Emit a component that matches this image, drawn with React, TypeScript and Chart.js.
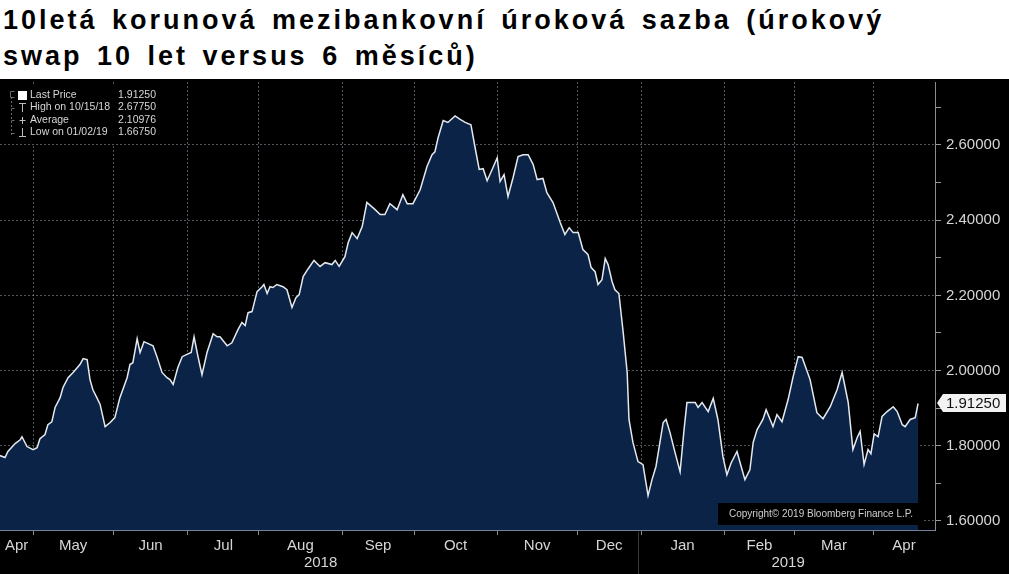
import React, { useEffect, useRef } from "react";
import { Chart, registerables } from "chart.js";
Chart.register(...registerables);

// ---------- data ----------
const titleLines = [
  "10letá korunová mezibankovní úroková sazba (úrokový",
  "swap 10 let versus 6 měsíců)",
];

// trading-day index since the first plotted day (Apr 2018)
const tradingDay = [
  0, 1.4, 2.2, 4.2, 5.6, 6.1, 7.5, 9.2, 10.3, 11.1,
  12.5, 13.3, 14.4, 15.3, 16.7, 17.5, 18.9, 20.3, 22.2, 23.1,
  24.2, 25.0, 25.8, 26.9, 27.8, 29.2, 30.6, 31.9, 33.3, 35.3,
  36.1, 36.9, 38.1, 38.9, 40.0, 42.5, 43.6, 45.0, 46.4, 47.2,
  48.1, 49.4, 50.6, 51.9, 53.1, 53.9, 55.0, 56.1, 57.5, 59.2,
  60.3, 61.1, 63.1, 64.4, 66.1, 67.2, 68.1, 68.9, 70.0, 71.4,
  72.8, 73.3, 74.2, 75.0, 75.8, 76.9, 78.6, 79.7, 81.1, 82.2,
  83.1, 84.2, 85.6, 87.2, 88.9, 90.3, 92.2, 93.1, 94.2, 95.8,
  96.7, 97.8, 99.2, 100.6, 101.9, 104.2, 105.6, 106.9, 108.3, 110.3,
  111.9, 113.1, 114.7, 116.7, 118.6, 120.0, 120.8, 121.7, 123.1, 124.4,
  126.4, 127.8, 129.2, 130.8, 131.9, 133.1, 134.2, 135.3, 136.7, 138.1,
  138.9, 140.0, 141.1, 142.5, 143.9, 145.3, 146.7, 148.1, 149.2, 150.8,
  151.9, 153.6, 155.6, 156.9, 158.1, 159.2, 160.6, 161.9, 163.3, 164.2,
  165.3, 166.1, 167.2, 168.1, 168.9, 170.0, 170.8, 171.9, 173.1, 174.2,
  174.7, 175.8, 177.2, 178.6, 180.0, 181.1, 182.2, 184.2, 185.0, 186.1,
  187.5, 188.9, 190.0, 190.8, 193.1, 193.9, 195.0, 196.7, 198.1, 199.4,
  200.8, 201.9, 203.1, 204.7, 206.1, 206.9, 208.3, 209.2, 210.3, 211.9,
  212.8, 214.7, 215.8, 217.2, 218.9, 220.3, 221.7, 222.8, 225.0, 226.9,
  228.6, 230.6, 232.5, 233.9, 235.6, 236.9, 238.1, 238.9, 240.0, 241.1,
  241.9, 242.8, 243.9, 245.0, 246.4, 248.1, 249.2, 250.6, 251.4, 252.8,
  254.2, 255.0,
];

const rate = [
  1.774, 1.769, 1.785, 1.806, 1.816, 1.824, 1.798, 1.790, 1.795, 1.819,
  1.830, 1.856, 1.864, 1.902, 1.928, 1.955, 1.981, 1.995, 2.016, 2.032,
  2.029, 1.976, 1.949, 1.928, 1.910, 1.851, 1.862, 1.875, 1.928, 1.981,
  2.016, 2.021, 2.085, 2.048, 2.077, 2.066, 2.037, 1.995, 1.981, 1.976,
  1.963, 2.008, 2.037, 2.043, 2.048, 2.090, 2.037, 1.989, 2.048, 2.098,
  2.090, 2.090, 2.066, 2.074, 2.109, 2.128, 2.120, 2.154, 2.157, 2.210,
  2.223, 2.229, 2.205, 2.223, 2.221, 2.229, 2.223, 2.215, 2.168, 2.194,
  2.202, 2.250, 2.271, 2.293, 2.277, 2.287, 2.282, 2.293, 2.277, 2.303,
  2.340, 2.367, 2.351, 2.383, 2.447, 2.428, 2.415, 2.415, 2.444, 2.428,
  2.468, 2.444, 2.444, 2.481, 2.543, 2.574, 2.582, 2.620, 2.665, 2.660,
  2.6775, 2.668, 2.660, 2.654, 2.596, 2.535, 2.537, 2.505, 2.535, 2.566,
  2.503, 2.521, 2.463, 2.513, 2.569, 2.574, 2.574, 2.548, 2.508, 2.511,
  2.473, 2.447, 2.394, 2.362, 2.380, 2.367, 2.367, 2.322, 2.309, 2.274,
  2.263, 2.229, 2.242, 2.298, 2.282, 2.237, 2.215, 2.205, 2.101, 1.995,
  1.870, 1.809, 1.758, 1.750, 1.6675, 1.710, 1.745, 1.862, 1.870, 1.835,
  1.782, 1.731, 1.843, 1.915, 1.915, 1.902, 1.915, 1.891, 1.926, 1.870,
  1.771, 1.723, 1.755, 1.785, 1.737, 1.710, 1.737, 1.809, 1.843, 1.870,
  1.896, 1.851, 1.883, 1.864, 1.923, 1.984, 2.037, 2.035, 1.976, 1.888,
  1.872, 1.904, 1.949, 1.995, 1.915, 1.790, 1.822, 1.838, 1.750, 1.790,
  1.779, 1.832, 1.824, 1.878, 1.891, 1.904, 1.891, 1.856, 1.851, 1.870,
  1.875, 1.9125,
];

// first trading day of each month (May 2018 .. Apr 2019)
const monthStartDay = [9.2, 31.4, 52.2, 71.9, 95.0, 115.0, 138.1, 160.3, 178.1, 201.1, 220.8, 242.5];
const monthLabels = ["Apr", "May", "Jun", "Jul", "Aug", "Sep", "Oct", "Nov", "Dec", "Jan", "Feb", "Mar", "Apr"];
const yearLabels = ["2018", "2019"];
const newYearMonthIndex = 8; // index in monthStartDay of Jan 2019
const axisStartDay = 0;
const axisEndDay = 259.7;

const yMin = 1.57606;
const yMax = 2.76755;
const yTicks = [1.6, 1.7, 1.8, 1.9, 2.0, 2.1, 2.2, 2.3, 2.4, 2.5, 2.6, 2.7];
const yLabelTicks = [1.6, 1.8, 2.0, 2.2, 2.4, 2.6];

const legendLabels = ["Last Price", "High on 10/15/18", "Average", "Low on 01/02/19"];
const legendValues = ["1.91250", "2.67750", "2.10976", "1.66750"];
const lastPrice = 1.9125;
const copyrightText = "Copyright\u00A9 2019 Bloomberg Finance L.P.";

// ---------- styles ----------
const FONT = "'Liberation Sans', Arial, sans-serif";
const TEXT = "#d6d6d6";
const GRID = "rgba(150,160,175,0.55)";
const FILL = "#0b2346";
const LINE = "#e4e9ef";

export default function App() {
  const ref = useRef<HTMLCanvasElement>(null);

  useEffect(() => {
    const canvas = ref.current;
    if (!canvas) return;

    const edges = [axisStartDay, ...monthStartDay, axisEndDay];
    const xTickDefs: any[] = [];
    monthStartDay.forEach((v) => xTickDefs.push({ value: v, kind: "b", name: "" }));
    monthLabels.forEach((lab, i) =>
      xTickDefs.push({ value: (edges[i] + edges[i + 1]) / 2, kind: "m", name: lab })
    );
    xTickDefs.sort((a, b) => a.value - b.value);

    const isLabelY = (v: number) => yLabelTicks.some((t) => Math.abs(t - v) < 1e-6);

    const overlay = {
      id: "bbgOverlay",
      afterDraw(chart: any) {
        const ctx = chart.ctx as CanvasRenderingContext2D;
        const xs = chart.scales.x;
        const ys = chart.scales.y;
        const area = chart.chartArea;
        const H = chart.height;
        ctx.save();

        // year separator + year labels
        const janDay = monthStartDay[newYearMonthIndex];
        const sepX = Math.round(xs.getPixelForValue(janDay)) - 2.5;
        ctx.strokeStyle = "#3a3a3a";
        ctx.lineWidth = 1;
        ctx.beginPath();
        ctx.moveTo(sepX, area.bottom + 2);
        ctx.lineTo(sepX, H);
        ctx.stroke();
        ctx.fillStyle = TEXT;
        ctx.font = `15px ${FONT}`;
        ctx.textAlign = "center";
        ctx.textBaseline = "middle";
        const y2018 = xs.getPixelForValue((axisStartDay + janDay) / 2);
        const y2019 = xs.getPixelForValue((janDay + axisEndDay) / 2);
        ctx.fillText(yearLabels[0], y2018, 484);
        ctx.fillText(yearLabels[1], y2019, 484);

        // last price tag
        const py = Math.round(ys.getPixelForValue(lastPrice));
        const left = area.right + 2;
        ctx.fillStyle = "#f2f2f2";
        ctx.beginPath();
        ctx.moveTo(left, py);
        ctx.lineTo(left + 6, py - 9);
        ctx.lineTo(1006, py - 9);
        ctx.lineTo(1006, py + 9);
        ctx.lineTo(left + 6, py + 9);
        ctx.closePath();
        ctx.fill();
        ctx.fillStyle = "#111";
        ctx.textAlign = "left";
        ctx.font = `15px ${FONT}`;
        ctx.fillText(lastPrice.toFixed(5), area.right + 11, py + 1);

        // legend box
        ctx.fillStyle = "#000";
        ctx.fillRect(4, 7, 162, 58);
        const rows = [16, 28.5, 41, 53.5];
        ctx.strokeStyle = "#6a6a6a";
        ctx.lineWidth = 1;
        ctx.setLineDash([2, 2]);
        ctx.beginPath();
        ctx.moveTo(11.5, 18);
        ctx.lineTo(11.5, 56);
        ctx.stroke();
        ctx.setLineDash([]);
        ctx.beginPath();
        ctx.moveTo(14.5, 12.5);
        ctx.lineTo(10.5, 12.5);
        ctx.lineTo(10.5, 18.5);
        ctx.lineTo(14.5, 18.5);
        for (let i = 1; i < 4; i++) {
          ctx.moveTo(11.5, Math.round(rows[i]) + 0.5);
          ctx.lineTo(14.5, Math.round(rows[i]) + 0.5);
        }
        ctx.stroke();
        // markers
        ctx.fillStyle = "#ffffff";
        ctx.fillRect(18, 12, 9, 9);
        ctx.strokeStyle = "#bdbdbd";
        ctx.beginPath();
        ctx.moveTo(19, 24.5); ctx.lineTo(26, 24.5);
        ctx.moveTo(22.5, 24.5); ctx.lineTo(22.5, 33);
        ctx.moveTo(19.5, 41.5); ctx.lineTo(25.5, 41.5);
        ctx.moveTo(22.5, 38); ctx.lineTo(22.5, 45);
        ctx.moveTo(22.5, 49); ctx.lineTo(22.5, 57.5);
        ctx.moveTo(19, 57.5); ctx.lineTo(26, 57.5);
        ctx.stroke();
        ctx.font = `10.5px ${FONT}`;
        ctx.fillStyle = TEXT;
        ctx.textBaseline = "middle";
        legendLabels.forEach((lab, i) => {
          ctx.textAlign = "left";
          ctx.fillText(lab, 30, rows[i]);
          ctx.textAlign = "right";
          ctx.fillText(legendValues[i], 156, rows[i]);
        });

        // copyright box
        ctx.fillStyle = "#000";
        ctx.fillRect(718, 424, 205, 22);
        ctx.fillStyle = "#cfcfcf";
        ctx.textAlign = "left";
        ctx.font = `10px ${FONT}`;
        ctx.fillText(copyrightText, 729, 435.5);

        ctx.restore();
      },
    };

    const chart = new Chart(canvas, {
      type: "line",
      data: {
        datasets: [
          {
            data: tradingDay.map((d, i) => ({ x: d, y: rate[i] })),
            borderColor: LINE,
            borderWidth: 1.5,
            backgroundColor: FILL,
            fill: "start",
            pointRadius: 0,
            tension: 0,
          },
        ],
      },
      options: {
        animation: false,
        responsive: false,
        maintainAspectRatio: false,
        events: [],
        layout: { padding: { top: 3, left: 0, right: 0, bottom: 0 } },
        plugins: {
          legend: { display: false },
          tooltip: { enabled: false },
          title: { display: false },
        },
        scales: {
          x: {
            type: "linear",
            z: 1,
            min: axisStartDay,
            max: axisEndDay,
            afterBuildTicks: (s: any) => {
              s.ticks = xTickDefs.map((t) => ({ ...t }));
            },
            afterFit: (s: any) => {
              s.height = 44;
              s.paddingLeft = 0;
              s.paddingRight = 0;
            },
            ticks: {
              autoSkip: false,
              maxRotation: 0,
              minRotation: 0,
              padding: 2,
              color: TEXT,
              font: { family: FONT, size: 15 },
              callback: (_v: any, i: number, ticks: any[]) => ticks[i].name,
            },
            grid: {
              color: (c: any) => (c.tick && c.tick.kind === "b" ? GRID : "rgba(0,0,0,0)"),
              tickColor: (c: any) => (c.tick && c.tick.kind === "b" ? "#8a8a8a" : "rgba(0,0,0,0)"),
              tickLength: 5,
              lineWidth: 1,
            },
            border: { display: true, color: "#72839b", width: 1, dash: [2, 2] },
          },
          y: {
            type: "linear",
            position: "right",
            z: 1,
            min: yMin,
            max: yMax,
            afterBuildTicks: (s: any) => {
              s.ticks = yTicks.map((v) => ({ value: v }));
            },
            afterFit: (s: any) => {
              s.width = 74;
              s.paddingTop = 0;
              s.paddingBottom = 0;
            },
            ticks: {
              padding: 5,
              color: TEXT,
              font: { family: FONT, size: 15 },
              callback: (v: any) => (isLabelY(Number(v)) ? Number(v).toFixed(5) : ""),
            },
            grid: {
              color: (c: any) => (c.tick && isLabelY(c.tick.value) ? GRID : "rgba(0,0,0,0)"),
              tickColor: "#9a9a9a",
              tickLength: 6,
              lineWidth: 1,
            },
            border: { display: true, color: "#8c8c8c", width: 1, dash: [2, 2] },
          },
        },
      },
      plugins: [overlay],
    } as any);

    return () => chart.destroy();
  }, []);

  return (
    <div
      style={{
        position: "absolute",
        left: 0,
        top: 0,
        width: 1009,
        height: 574,
        background: "#ffffff",
        overflow: "hidden",
      }}
    >
      <div
        style={{
          position: "absolute",
          left: 3,
          top: 2,
          fontFamily: FONT,
          fontWeight: "bold",
          fontSize: 27,
          lineHeight: "36px",
          letterSpacing: "3px",
          wordSpacing: "4px",
          color: "#000",
          whiteSpace: "nowrap",
        }}
      >
        {titleLines.map((l, i) => (
          <div key={i}>{l}</div>
        ))}
      </div>
      <canvas
        ref={ref}
        width={1009}
        height={495}
        style={{ position: "absolute", left: 0, top: 79, width: 1009, height: 495, background: "#000" }}
      />
    </div>
  );
}
